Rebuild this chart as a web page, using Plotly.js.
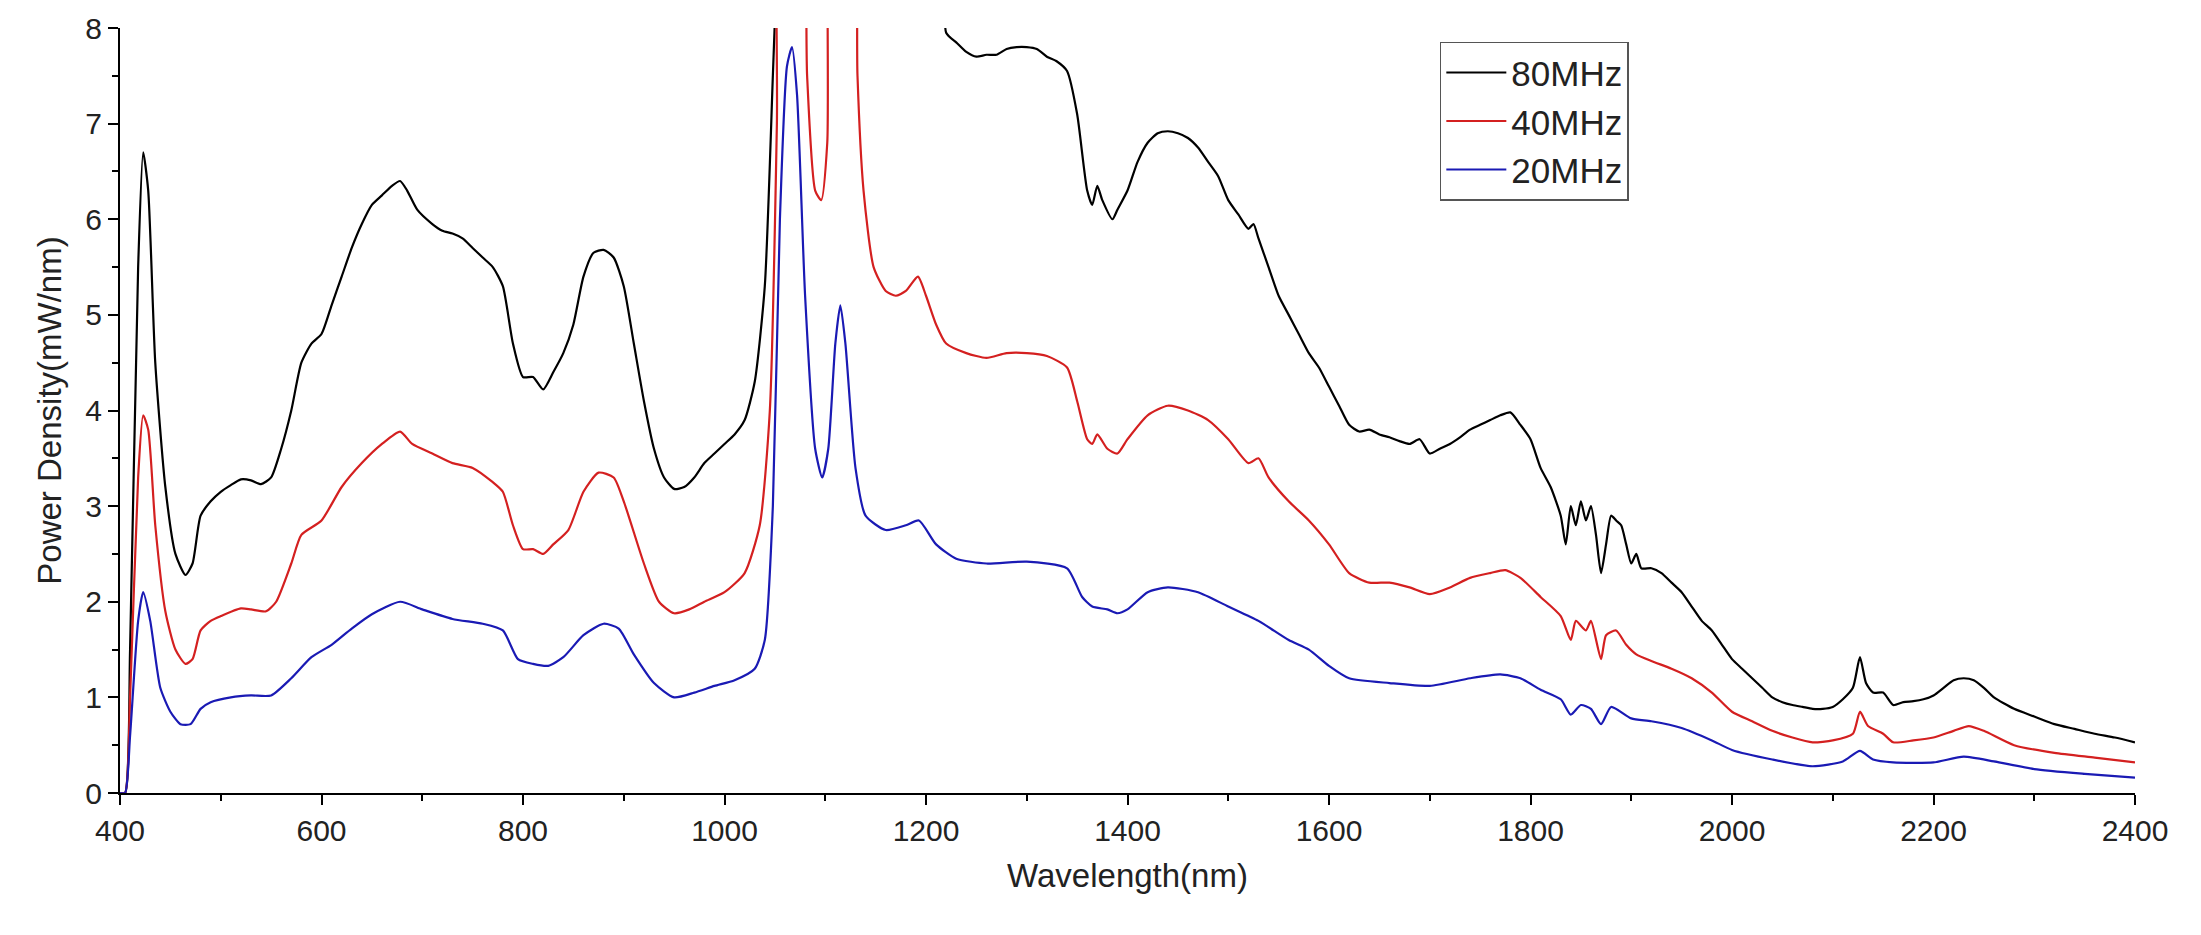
<!DOCTYPE html>
<html>
<head>
<meta charset="utf-8">
<script src="https://cdn.plot.ly/plotly-3.0.1.min.js"></script>
<style>html,body{margin:0;padding:0;background:#fff;}</style>
</head>
<body>
<div id="chart" style="width:2201px;height:935px;"></div>
<script>
// spectra (values above 8 are clipped by the axis)
const x80 = [400,405,410,418,423,428,435,445,455,465,472,480,490,500,510,520,530,540,550,560,570,580,590,600,610,620,630,640,650,660,670,678,685,695,710,720,730,740,750,760,770,780,790,800,810,820,830,840,850,860,870,880,890,900,910,920,930,940,950,960,970,980,990,1000,1010,1020,1030,1040,1048,1053,1060,1215,1220,1230,1240,1250,1260,1270,1280,1290,1300,1310,1320,1330,1340,1350,1360,1365,1370,1375,1385,1390,1400,1410,1420,1430,1440,1450,1460,1470,1480,1490,1500,1510,1520,1525,1530,1540,1550,1560,1570,1580,1590,1600,1610,1620,1630,1640,1650,1660,1670,1680,1690,1700,1710,1720,1730,1740,1750,1760,1770,1780,1790,1800,1810,1820,1830,1835,1840,1845,1850,1855,1860,1865,1870,1875,1880,1885,1890,1895,1900,1905,1910,1920,1930,1940,1950,1960,1970,1980,1990,2000,2010,2020,2030,2040,2050,2060,2070,2080,2090,2100,2110,2120,2127,2133,2140,2150,2160,2170,2180,2190,2200,2210,2220,2230,2240,2250,2260,2280,2300,2320,2340,2360,2380,2400];
const y80 = [0,0,1.5,5.5,6.7,6.3,4.5,3.2,2.5,2.28,2.4,2.9,3.05,3.15,3.22,3.28,3.27,3.23,3.3,3.6,4.0,4.5,4.7,4.8,5.1,5.4,5.7,5.95,6.15,6.25,6.35,6.4,6.3,6.1,5.95,5.88,5.85,5.8,5.7,5.6,5.5,5.3,4.7,4.35,4.35,4.22,4.4,4.6,4.9,5.4,5.65,5.68,5.6,5.3,4.7,4.1,3.6,3.3,3.18,3.2,3.3,3.45,3.55,3.65,3.75,3.9,4.3,5.3,7.5,9,12,10,7.95,7.85,7.75,7.7,7.72,7.72,7.78,7.8,7.8,7.78,7.7,7.65,7.55,7.1,6.3,6.15,6.35,6.2,6.0,6.1,6.3,6.6,6.8,6.9,6.92,6.9,6.85,6.75,6.6,6.45,6.2,6.05,5.9,5.95,5.8,5.5,5.2,5.0,4.8,4.6,4.45,4.25,4.05,3.85,3.78,3.8,3.75,3.72,3.68,3.65,3.7,3.55,3.6,3.65,3.72,3.8,3.85,3.9,3.95,3.98,3.85,3.7,3.4,3.2,2.9,2.6,3.0,2.8,3.05,2.85,3.0,2.7,2.3,2.6,2.9,2.85,2.8,2.6,2.4,2.5,2.35,2.35,2.3,2.2,2.1,1.95,1.8,1.7,1.55,1.4,1.3,1.2,1.1,1.0,0.95,0.92,0.9,0.88,0.88,0.9,0.98,1.1,1.42,1.15,1.05,1.05,0.92,0.95,0.96,0.98,1.02,1.1,1.18,1.2,1.18,1.1,1.0,0.88,0.8,0.72,0.67,0.62,0.58,0.53];

const x40 = [400,405,410,418,423,428,435,445,455,465,472,480,490,500,520,530,545,555,570,580,600,620,640,660,678,690,710,730,750,770,780,790,800,810,820,830,845,860,875,890,900,920,935,950,965,980,1000,1020,1035,1045,1052,1058,1072,1082,1090,1096,1102,1110,1124,1132,1138,1148,1160,1170,1180,1192,1200,1210,1220,1240,1260,1280,1300,1320,1340,1350,1360,1365,1370,1380,1390,1400,1420,1440,1460,1480,1500,1520,1530,1540,1560,1580,1600,1620,1640,1660,1680,1700,1720,1740,1760,1775,1790,1810,1830,1840,1845,1855,1860,1870,1875,1885,1895,1905,1920,1940,1960,1980,2000,2020,2040,2060,2080,2100,2120,2127,2135,2150,2160,2180,2200,2220,2235,2250,2280,2320,2360,2400];
const y40 = [0,0,1.0,3.3,3.95,3.8,2.8,1.9,1.5,1.35,1.4,1.7,1.8,1.85,1.93,1.92,1.9,2.0,2.4,2.7,2.85,3.2,3.45,3.65,3.78,3.65,3.55,3.45,3.4,3.25,3.15,2.8,2.55,2.55,2.5,2.6,2.75,3.15,3.35,3.3,3.05,2.4,2.0,1.88,1.92,2.0,2.1,2.3,2.8,4,7,12,12,7.5,6.3,6.2,6.8,12,12,7.5,6.3,5.5,5.25,5.2,5.25,5.4,5.2,4.9,4.7,4.6,4.55,4.6,4.6,4.57,4.45,4.1,3.7,3.65,3.75,3.6,3.55,3.7,3.95,4.05,4.0,3.9,3.7,3.45,3.5,3.3,3.05,2.85,2.6,2.3,2.2,2.2,2.15,2.08,2.15,2.25,2.3,2.33,2.25,2.05,1.85,1.6,1.8,1.7,1.8,1.4,1.65,1.7,1.55,1.45,1.38,1.3,1.2,1.05,0.85,0.75,0.65,0.58,0.53,0.55,0.62,0.85,0.7,0.62,0.53,0.55,0.58,0.65,0.7,0.65,0.5,0.42,0.37,0.32];

const x20 = [400,405,410,418,423,430,440,450,460,470,480,490,510,530,550,570,590,610,630,650,678,700,730,760,780,795,810,825,840,860,880,895,910,930,950,970,990,1010,1030,1040,1048,1055,1062,1067,1072,1080,1090,1097,1103,1110,1115,1120,1130,1140,1160,1180,1193,1210,1230,1260,1300,1340,1355,1365,1380,1390,1400,1420,1440,1470,1500,1530,1560,1580,1600,1620,1660,1700,1740,1770,1790,1810,1830,1840,1850,1860,1870,1880,1900,1920,1950,1980,2000,2040,2080,2110,2127,2140,2160,2200,2230,2260,2300,2350,2400];
const y20 = [0,0,0.6,1.8,2.1,1.8,1.1,0.85,0.72,0.72,0.88,0.95,1.0,1.02,1.02,1.2,1.42,1.55,1.72,1.87,2.0,1.92,1.82,1.77,1.7,1.4,1.35,1.33,1.42,1.65,1.77,1.72,1.45,1.15,1.0,1.05,1.12,1.18,1.3,1.6,3,6,7.6,7.8,7.3,5.2,3.6,3.3,3.6,4.7,5.1,4.7,3.4,2.9,2.75,2.8,2.85,2.6,2.45,2.4,2.42,2.35,2.05,1.95,1.92,1.88,1.92,2.1,2.15,2.1,1.95,1.8,1.6,1.5,1.33,1.2,1.15,1.12,1.2,1.24,1.2,1.08,0.98,0.82,0.92,0.88,0.72,0.9,0.78,0.75,0.68,0.55,0.45,0.35,0.28,0.33,0.44,0.35,0.32,0.32,0.38,0.33,0.25,0.2,0.16];

const names = ['80MHz', '40MHz', '20MHz'];
const colors = ['#000000', '#d42020', '#1a1ab4'];

const traces = [[x80, y80], [x40, y40], [x20, y20]].map((s, i) => ({
  x: s[0], y: s[1], name: names[i], type: 'scatter', mode: 'lines',
  line: {color: colors[i], width: 2.2, shape: 'spline', smoothing: 0.6}
}));

const font = 'Liberation Sans, Arial, sans-serif';

const axisBase = {
  showline: true, linecolor: '#000', linewidth: 2, mirror: false,
  ticks: 'outside', ticklen: 10, tickwidth: 2, tickcolor: '#000',
  showgrid: false, zeroline: false,
  tickfont: {family: font, size: 30, color: '#222'}
};

const layout = {
  width: 2201, height: 935,
  margin: {l: 120, r: 66, t: 28, b: 142},
  paper_bgcolor: '#fff', plot_bgcolor: '#fff',
  showlegend: true,
  legend: {
    x: 0.655, y: 0.982, xanchor: 'left', yanchor: 'top',
    bgcolor: '#fff', bordercolor: '#555', borderwidth: 1.5,
    font: {family: font, size: 35, color: '#222'},
    tracegroupgap: 0, itemwidth: 60
  },
  xaxis: Object.assign({}, axisBase, {
    range: [400, 2400], dtick: 200, tick0: 400,
    minor: {dtick: 100, ticks: 'outside', ticklen: 6, tickwidth: 2, tickcolor: '#000'},
    title: {text: 'Wavelength(nm)', standoff: 18,
      font: {family: font, size: 33, color: '#222'}}
  }),
  yaxis: Object.assign({}, axisBase, {
    range: [0, 8], dtick: 1,
    minor: {dtick: 0.5, ticks: 'outside', ticklen: 6, tickwidth: 2, tickcolor: '#000'},
    title: {text: 'Power Density(mW/nm)', standoff: 14,
      font: {family: font, size: 33, color: '#222'}}
  })
};

Plotly.newPlot('chart', traces, layout, {displayModeBar: false, staticPlot: true});
</script>
</body>
</html>
